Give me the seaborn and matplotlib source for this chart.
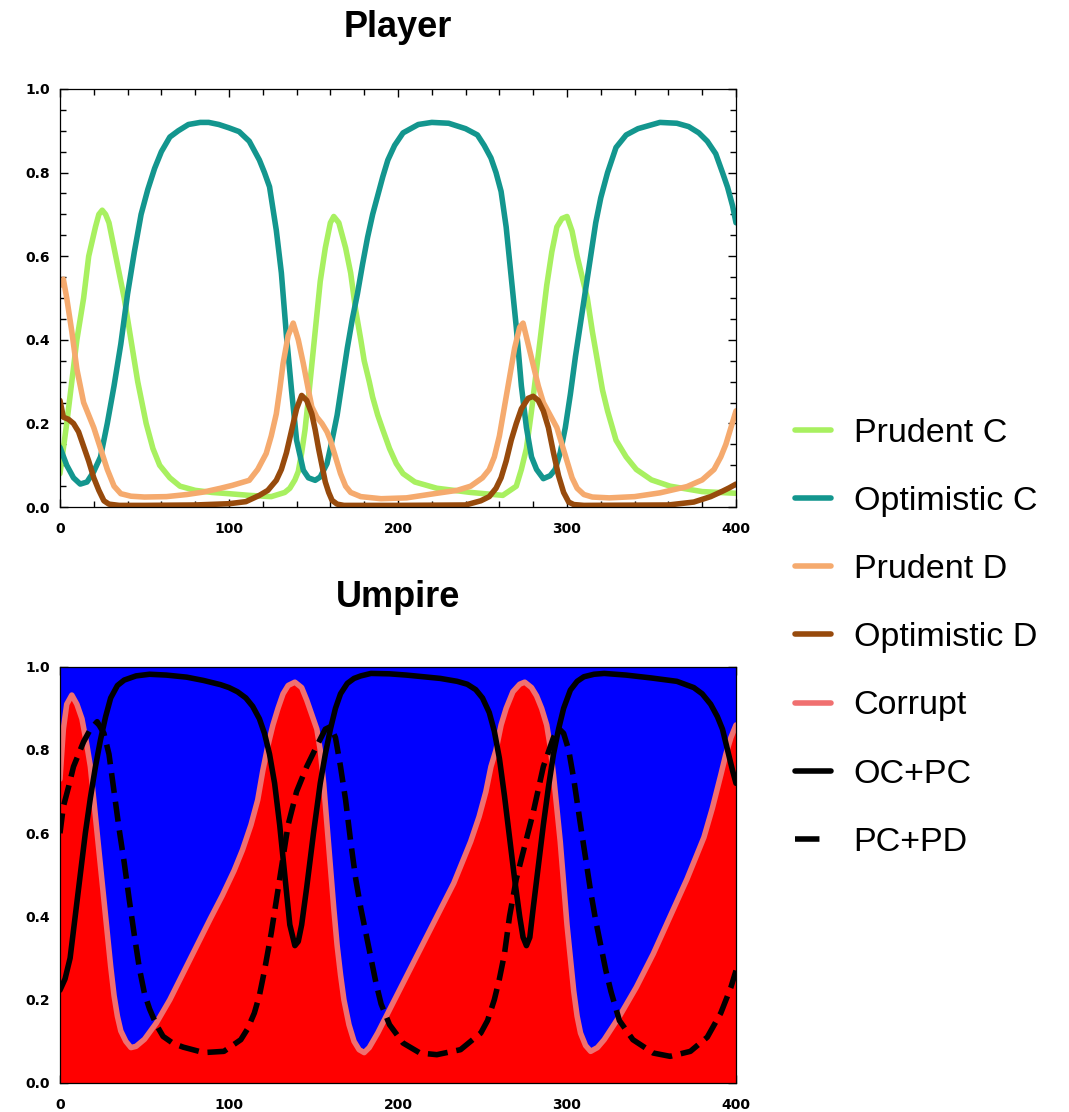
import matplotlib
matplotlib.use("Agg")
import matplotlib.pyplot as plt
import seaborn as sns
from matplotlib.lines import Line2D
from matplotlib.ticker import MultipleLocator

# --- Player: strategy frequencies over time ---
pc_t = [0, 2, 4, 7, 10, 14, 17, 21, 23, 25, 27, 29, 33, 38, 42, 46, 51, 55, 59, 65, 71, 80, 90, 100, 112,
        125, 133, 136, 139, 141, 143, 145, 147, 149, 151, 154, 157, 160, 162, 165, 169, 172, 175, 178, 180,
        183, 185, 188, 191, 195, 199, 203, 210, 223, 243, 262, 270, 273, 276, 279, 282, 285, 288, 291, 294,
        297, 300, 303, 306, 309, 312, 315, 318, 321, 324, 329, 335, 341, 350, 361, 380, 400]
pc_v = [0.08, 0.14, 0.2, 0.3, 0.4, 0.5, 0.6, 0.67, 0.70, 0.71, 0.70, 0.68, 0.6, 0.5, 0.4, 0.3, 0.2, 0.14,
        0.1, 0.07, 0.05, 0.04, 0.035, 0.032, 0.028, 0.025, 0.035, 0.045, 0.065, 0.085, 0.13, 0.185, 0.26,
        0.34, 0.42, 0.54, 0.62, 0.68, 0.695, 0.68, 0.62, 0.56, 0.47, 0.40, 0.35, 0.3, 0.263, 0.22, 0.185,
        0.14, 0.104, 0.08, 0.06, 0.045, 0.035, 0.028, 0.05, 0.09, 0.14, 0.23, 0.33, 0.43, 0.53, 0.61,
        0.67, 0.69, 0.695, 0.66, 0.6, 0.55, 0.5, 0.42, 0.35, 0.28, 0.23, 0.16, 0.12, 0.09, 0.065, 0.05,
        0.037, 0.033]

oc_t = [0, 4, 8, 12, 16, 20, 24, 28, 32, 36, 40, 44, 48, 52, 56, 60, 65, 70, 76, 83, 88, 94, 100, 106, 112,
        118, 121, 124, 128, 131, 134, 137, 140, 144, 147, 151, 154, 158, 161, 164, 167, 170, 173, 176, 179,
        182, 185, 188, 191, 194, 198, 203, 212, 220, 230, 240, 247, 251, 255, 258, 261, 264, 267, 270,
        273, 276, 279, 282, 286, 290, 293, 296, 299, 302, 305, 308, 311, 314, 317, 320, 324, 329, 335,
        342, 355, 365, 372, 378, 383, 388, 392, 395, 398, 400]
oc_v = [0.143, 0.10, 0.07, 0.055, 0.06, 0.085, 0.12, 0.2, 0.29, 0.39, 0.51, 0.61, 0.7, 0.76, 0.81, 0.85,
        0.885, 0.9, 0.915, 0.92, 0.92, 0.915, 0.907, 0.898, 0.875, 0.83, 0.8, 0.766, 0.662, 0.56, 0.41,
        0.28, 0.16, 0.088, 0.07, 0.064, 0.072, 0.104, 0.16, 0.22, 0.3, 0.38, 0.45, 0.51, 0.58, 0.645,
        0.7, 0.745, 0.79, 0.83, 0.865, 0.895, 0.915, 0.92, 0.918, 0.905, 0.89, 0.865, 0.835, 0.8, 0.755,
        0.67, 0.55, 0.43, 0.29, 0.19, 0.12, 0.09, 0.068, 0.075, 0.09, 0.13, 0.19, 0.27, 0.36, 0.44, 0.52,
        0.6, 0.68, 0.74, 0.8, 0.86, 0.89, 0.905, 0.92, 0.918, 0.91, 0.895, 0.875, 0.845, 0.8, 0.765,
        0.72, 0.68]

pd_t = [0, 2, 4, 7, 10, 14, 20, 24, 28, 32, 36, 42, 50, 63, 75, 85, 95, 102, 107, 112, 117, 122, 125, 128,
        130, 132, 135, 138, 141, 144, 147, 149, 152, 155, 158, 160, 163, 166, 169, 172, 178, 190, 205,
        223, 235, 243, 250, 254, 257, 260, 263, 266, 269, 272, 274, 277, 280, 283, 286, 290, 294, 297,
        300, 303, 306, 310, 315, 325, 340, 355, 371, 380, 387, 391, 394, 397, 400]
pd_v = [0.53, 0.545, 0.5, 0.42, 0.33, 0.25, 0.19, 0.14, 0.09, 0.05, 0.032, 0.026, 0.024, 0.025, 0.03,
        0.036, 0.045, 0.052, 0.058, 0.064, 0.09, 0.128, 0.17, 0.223, 0.28, 0.343, 0.41, 0.44, 0.4, 0.343,
        0.28, 0.24, 0.215, 0.2, 0.18, 0.16, 0.12, 0.08, 0.05, 0.035, 0.025, 0.02, 0.022, 0.033, 0.04,
        0.05, 0.07, 0.09, 0.12, 0.17, 0.24, 0.31, 0.38, 0.43, 0.44, 0.39, 0.34, 0.29, 0.25, 0.22, 0.19,
        0.15, 0.11, 0.07, 0.045, 0.03, 0.024, 0.022, 0.025, 0.034, 0.049, 0.065, 0.09, 0.12, 0.15, 0.19,
        0.23]

od_t = [0, 2, 5, 8, 11, 14, 17, 20, 23, 26, 29, 35, 50, 80, 100, 110, 118, 123, 128, 131, 134, 136, 138,
        140, 143, 146, 149, 151, 153, 155, 157, 159, 161, 164, 168, 200, 240, 249, 254, 258, 261, 264,
        267, 270, 273, 277, 280, 283, 286, 289, 292, 295, 298, 301, 304, 310, 360, 375, 385, 392, 396, 400]
od_v = [0.255, 0.215, 0.21, 0.2, 0.18, 0.145, 0.11, 0.07, 0.04, 0.015, 0.007, 0.004, 0.004, 0.005, 0.008,
        0.013, 0.028, 0.04, 0.064, 0.09, 0.13, 0.165, 0.2, 0.235, 0.267, 0.255, 0.223, 0.185, 0.14, 0.1,
        0.06, 0.035, 0.016, 0.007, 0.004, 0.004, 0.005, 0.015, 0.025, 0.045, 0.07, 0.11, 0.16, 0.2,
        0.235, 0.26, 0.265, 0.255, 0.23, 0.19, 0.13, 0.075, 0.035, 0.012, 0.006, 0.004, 0.005, 0.012,
        0.025, 0.038, 0.046, 0.055]

# --- Umpire ---
cr_t = [0, 2, 4, 7, 10, 13, 16, 18, 20, 22, 24, 26, 28, 30, 32, 34, 36, 39, 42, 45, 50, 57, 65, 73, 81,
        89, 96, 103, 108, 113, 117, 120, 123, 126, 129, 132, 135, 139, 143, 146, 149, 152, 154, 156, 158,
        160, 162, 164, 166, 168, 171, 174, 177, 180, 183, 188, 193, 203, 213, 223, 233, 243, 248, 252,
        255, 258, 261, 264, 268, 272, 275, 279, 282, 285, 288, 290, 292, 294, 296, 298, 300, 302, 304,
        306, 308, 311, 314, 318, 322, 331, 341, 351, 361, 371, 381, 386, 391, 394, 397, 400]
cr_v = [0.73, 0.85, 0.91, 0.932, 0.91, 0.875, 0.81, 0.76, 0.68, 0.6, 0.52, 0.44, 0.36, 0.28, 0.21, 0.16,
        0.125, 0.1, 0.085, 0.088, 0.105, 0.144, 0.2, 0.265, 0.33, 0.395, 0.45, 0.51, 0.56, 0.62, 0.68,
        0.75, 0.81, 0.86, 0.9, 0.935, 0.955, 0.963, 0.95, 0.92, 0.885, 0.85, 0.8, 0.72, 0.62, 0.52, 0.42,
        0.33, 0.26, 0.2, 0.14, 0.1, 0.08, 0.073, 0.085, 0.12, 0.16, 0.24, 0.32, 0.40, 0.48, 0.58, 0.64,
        0.7, 0.76, 0.8, 0.86, 0.9, 0.94, 0.958, 0.963, 0.95, 0.93, 0.9, 0.86, 0.81, 0.74, 0.66, 0.58,
        0.48, 0.38, 0.3, 0.22, 0.16, 0.12, 0.09, 0.076, 0.085, 0.104, 0.16, 0.23, 0.31, 0.40, 0.49, 0.59,
        0.66, 0.74, 0.79, 0.83, 0.86]

ocpc_t = [0, 3, 6, 9, 12, 15, 18, 21, 24, 27, 30, 34, 38, 45, 53, 63, 75, 85, 95, 100, 105, 110, 114,
          118, 121, 124, 127, 130, 133, 136, 139, 141, 143, 146, 150, 154, 157, 160, 163, 166, 170, 174,
          178, 184, 195, 205, 215, 225, 235, 241, 246, 250, 254, 257, 260, 263, 266, 269, 272, 274, 276,
          278, 280, 283, 286, 289, 292, 295, 298, 302, 306, 310, 316, 322, 335, 350, 365, 375, 380, 385,
          389, 392, 395, 398, 400]
ocpc_v = [0.223, 0.25, 0.3, 0.4, 0.5, 0.6, 0.685, 0.76, 0.825, 0.88, 0.925, 0.955, 0.968, 0.978, 0.982,
          0.98, 0.975, 0.967, 0.957, 0.95, 0.94, 0.925, 0.905, 0.875, 0.84, 0.79, 0.72, 0.62, 0.5, 0.38,
          0.33, 0.34, 0.38, 0.47, 0.6, 0.72, 0.79, 0.85, 0.9, 0.935, 0.96, 0.972, 0.978, 0.984, 0.983,
          0.98, 0.976, 0.972, 0.965, 0.958, 0.945, 0.925, 0.89, 0.845, 0.78, 0.69, 0.59, 0.49, 0.4, 0.35,
          0.33, 0.35, 0.42, 0.52, 0.62, 0.71, 0.79, 0.85, 0.9, 0.944, 0.965, 0.976, 0.982, 0.984, 0.98,
          0.973, 0.965, 0.95, 0.935, 0.91, 0.88, 0.85, 0.8, 0.75, 0.72]

pcpd_t = [0, 2, 5, 8, 11, 14, 18, 22, 26, 29, 32, 35, 38, 41, 44, 47, 50, 53, 57, 61, 67, 73, 85, 97, 107,
          111, 115, 118, 121, 125, 130, 135, 140, 146, 152, 157, 160, 163, 166, 169, 172, 175, 178, 181,
          184, 187, 190, 195, 203, 213, 223, 237, 249, 253, 257, 260, 263, 266, 270, 275, 280, 286, 292,
          295, 298, 301, 304, 308, 311, 314, 317, 320, 323, 326, 331, 339, 351, 361, 373, 383, 391, 397,
          400]
pcpd_v = [0.6, 0.664, 0.71, 0.76, 0.79, 0.82, 0.85, 0.868, 0.84, 0.79, 0.7, 0.61, 0.53, 0.44, 0.355,
          0.275, 0.215, 0.178, 0.14, 0.112, 0.095, 0.086, 0.073, 0.076, 0.104, 0.13, 0.168, 0.21, 0.27,
          0.36, 0.49, 0.62, 0.70, 0.76, 0.81, 0.85, 0.856, 0.83, 0.76, 0.68, 0.58, 0.49, 0.42, 0.36, 0.3,
          0.24, 0.19, 0.14, 0.096, 0.072, 0.068, 0.08, 0.12, 0.15, 0.2, 0.25, 0.31, 0.4, 0.49, 0.57, 0.65,
          0.76, 0.83, 0.852, 0.84, 0.8, 0.73, 0.62, 0.54, 0.46, 0.39, 0.33, 0.27, 0.22, 0.15, 0.104,
          0.072, 0.064, 0.076, 0.11, 0.168, 0.23, 0.27]

labels = ["Prudent C", "Optimistic C", "Prudent D", "Optimistic D", "Corrupt", "OC+PC", "PC+PD"]
colors = ["#A8F060", "#13968E", "#F5AA6E", "#974A0C", "#F07070", "#000000", "#000000"]


def style_axis(ax):
    ax.set_xlim(0, 400)
    ax.set_ylim(0, 1)
    ax.xaxis.set_major_locator(MultipleLocator(100))
    ax.xaxis.set_minor_locator(MultipleLocator(20))
    ax.yaxis.set_major_locator(MultipleLocator(0.2))
    ax.yaxis.set_minor_locator(MultipleLocator(0.05))
    ax.yaxis.set_major_formatter(plt.FuncFormatter(lambda v, p: f"{v:.1f}"))
    ax.tick_params(which="both", direction="in", top=True, right=True, width=1, color="black",
                   labelcolor="black")
    ax.tick_params(which="major", length=6, labelsize=10)
    ax.tick_params(axis="x", which="major", pad=10.5)
    ax.tick_params(axis="y", which="major", pad=7.2)
    ax.tick_params(which="minor", length=4)
    # tick labels in a wide bold face, like the original
    for lab in ax.get_xticklabels() + ax.get_yticklabels():
        lab.set_fontweight("bold")
        lab.set_fontfamily("DejaVu Sans")
    for sp in ax.spines.values():
        sp.set_linewidth(0.9)
        sp.set_color("black")
    ax.set_xlabel("")
    ax.set_ylabel("")


def main():
    sns.set_style("ticks")
    plt.rcParams["font.family"] = ["Liberation Sans", "DejaVu Sans"]
    plt.rcParams["text.color"] = "black"

    fig = plt.figure(figsize=(10.69, 11.12), dpi=100)
    ax1 = fig.add_axes([0.0561, 0.544, 0.6324, 0.376])
    ax2 = fig.add_axes([0.0561, 0.0261, 0.6324, 0.3743])

    lw = 4.0
    handles = []
    for t, v, c in [(pc_t, pc_v, colors[0]), (oc_t, oc_v, colors[1]),
                    (pd_t, pd_v, colors[2]), (od_t, od_v, colors[3])]:
        sns.lineplot(x=t, y=v, ax=ax1, color=c, linewidth=lw)
        handles.append(ax1.lines[-1])

    # Umpire: corrupt share in red, honest share in blue
    ax2.fill_between(cr_t, 0, cr_v, color="#FF0000", linewidth=0)
    ax2.fill_between(cr_t, cr_v, 1, color="#0000FF", linewidth=0)
    sns.lineplot(x=cr_t, y=cr_v, ax=ax2, color=colors[4], linewidth=lw)
    handles.append(ax2.lines[-1])
    sns.lineplot(x=ocpc_t, y=ocpc_v, ax=ax2, color=colors[5], linewidth=lw)
    handles.append(ax2.lines[-1])
    sns.lineplot(x=pcpd_t, y=pcpd_v, ax=ax2, color=colors[6], linewidth=lw,
                 linestyle=(0, (3.6, 1.6)))
    # legend shows a single short dash for the dashed series
    handles.append(Line2D([], [], color=colors[6], linewidth=lw, linestyle=(0, (4.4, 3.0))))

    style_axis(ax1)
    style_axis(ax2)

    fig.text(0.3723, 0.9667, "Player", ha="center", va="baseline", fontsize=26, fontweight="bold")
    fig.text(0.3723, 0.4541, "Umpire", ha="center", va="baseline", fontsize=26, fontweight="bold")

    fig.legend(handles, labels, loc="upper left", bbox_to_anchor=(0.744, 0.624), frameon=False,
               fontsize=24.5, handlelength=1.06, handletextpad=0.65, labelspacing=1.09,
               borderaxespad=0, borderpad=0)

    fig.savefig("out.png", dpi=100)


if __name__ == "__main__":
    main()
